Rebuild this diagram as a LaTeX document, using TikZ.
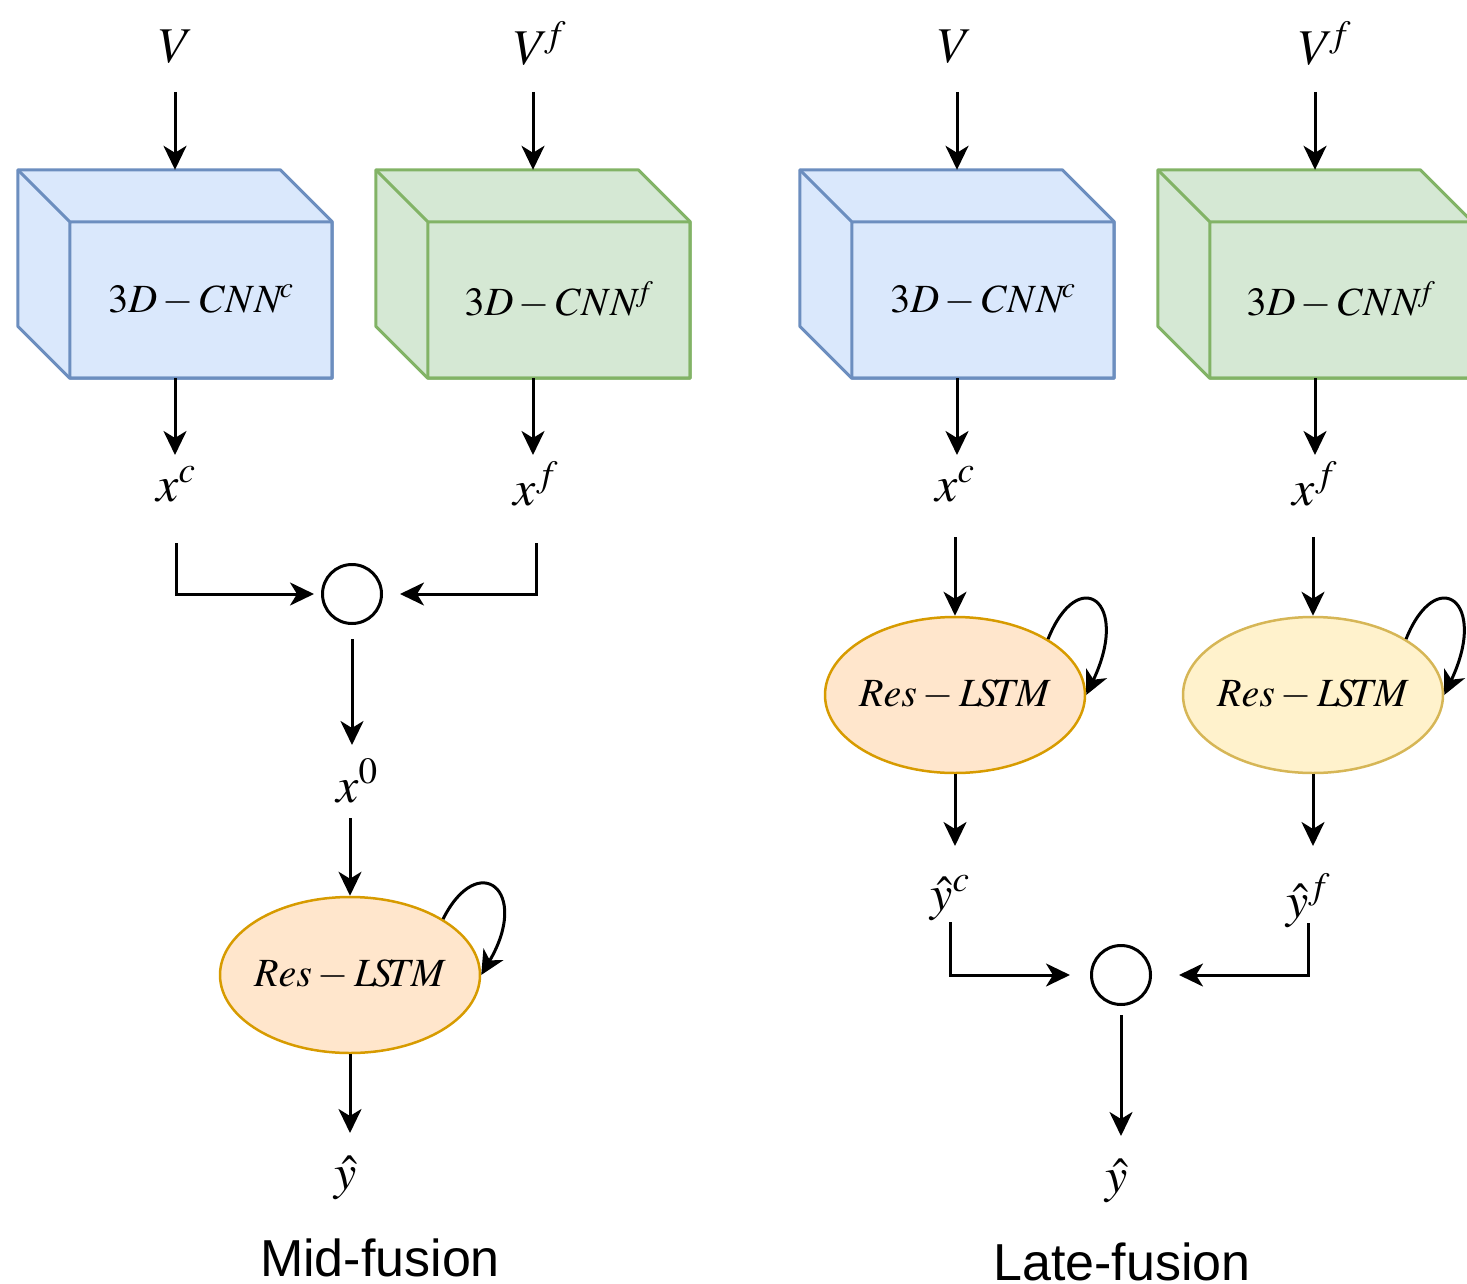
\documentclass[tikz,border=0pt]{standalone}
\usepackage{mathptmx}
\usepackage{fontspec}
\setmainfont{Liberation Serif}
\newfontfamily\titlefont{Liberation Sans}
\usetikzlibrary{arrows.meta,shapes.geometric}

\definecolor{cnnblue}{HTML}{DAE8FC}
\definecolor{cnnblueline}{HTML}{6C8EBF}
\definecolor{cnngreen}{HTML}{D5E8D4}
\definecolor{cnngreenline}{HTML}{82B366}
\definecolor{lstmorange}{HTML}{FFE6CC}
\definecolor{lstmorangeline}{HTML}{D79B00}
\definecolor{lstmyellow}{HTML}{FFF2CC}
\definecolor{lstmyellowline}{HTML}{D6B656}

\begin{document}
\begin{tikzpicture}[x=1pt,y=-1pt,
  arr/.style={-{Stealth[length=24pt,width=23pt,inset=7pt]},line width=3pt},
  lbl/.style={inner sep=0pt,anchor=base,font=\fontsize{50}{60}\selectfont},
  cubebox/.style={minimum width=314pt,minimum height=208pt,inner sep=0pt},
  lstm/.style={ellipse,draw,minimum width=260pt,minimum height=156pt,inner sep=0pt,line width=2.5pt,
    label={[font=\fontsize{40}{48}\selectfont]center:$Res - L\!S\!T\!M$}},
  merge/.style={circle,draw,line width=3pt,minimum size=59pt,inner sep=0pt},
  title/.style={anchor=base,inner sep=0pt,font=\titlefont\fontsize{52}{60}\selectfont}]
  \useasboundingbox (0,0) rectangle (1467,1284);

  % 3D-CNN blocks
  \foreach \n/\cx/\fl/\ln/\s in {cnnL/175/cnnblue/cnnblueline/c, cnnfL/533/cnngreen/cnngreenline/f,
      cnnR/957/cnnblue/cnnblueline/c, cnnfR/1315/cnngreen/cnngreenline/f}{
    \node[cubebox] (\n) at (\cx,274) {};
    \draw[fill=\fl,draw=\ln,line width=3pt,line join=round]
      (\n.north west) -- ([xshift=-52pt]\n.north east) -- ([yshift=-52pt]\n.north east)
      -- (\n.south east) -- ([xshift=52pt]\n.south west) -- ([yshift=52pt]\n.south west) -- cycle;
    \draw[draw=\ln,line width=3pt,line join=round]
      ([shift={(52pt,-52pt)}]\n.north west) rectangle (\n.south east)
      (\n.north west) -- ([shift={(52pt,-52pt)}]\n.north west);
    \node[font=\fontsize{40}{48}\selectfont] at ([shift={(26pt,-26pt)}]\n.center) {$3D - CNN^{\!\s}$};
  }

  % mid-fusion
  \node[lbl] (vL) at (176,63) {$V$};
  \node[lbl] (vfL) at (540,65) {$V^{\!f}$};
  \node[lbl] (xcL) at (176,501) {$x^c$};
  \node[lbl] (xfL) at (536,505) {$x^f$};
  \node[merge] (mergeL) at (352,594) {};
  \node[lbl] (x0) at (357,802) {$x^0$};
  \node[lstm,fill=lstmorange,draw=lstmorangeline] (lstmL) at (350,975) {};
  \node[lbl] (yL) at (346,1189) {$\hat{y}$};
  \node[title] (midT) at (380,1276) {Mid-fusion};

  \draw[arr,shorten <=29pt] (vL.base -| cnnL.north) -- (cnnL.north);
  \draw[arr,shorten <=27pt] (vfL.base -| cnnfL.north) -- (cnnfL.north);
  \draw[arr,shorten >=46pt] (cnnL.south) -- (cnnL.south |- xcL.base);
  \draw[arr,shorten >=50pt] (cnnfL.south) -- (cnnfL.south |- xfL.base);
  \draw[arr,shorten <=42pt,shorten >=7pt] (xcL.base) |- (mergeL.west);
  \draw[arr,shorten <=38pt,shorten >=17pt] (xfL.base) |- (mergeL.east);
  \draw[arr,shorten <=14pt,shorten >=57pt] (mergeL.south) -- (mergeL.south |- x0.base);
  \draw[arr,shorten <=16pt] (x0.base -| lstmL.north) -- (lstmL.north);
  \draw[arr] (lstmL.31) .. controls +(35,-70) and +(50,-85) .. (lstmL.east);
  \draw[arr,shorten >=56pt] (lstmL.south) -- (lstmL.south |- yL.base);

  % late-fusion
  \node[lbl] (vR) at (955,63) {$V$};
  \node[lbl] (vfR) at (1325,65) {$V^{\!f}$};
  \node[lbl] (xcR) at (955,501) {$x^c$};
  \node[lbl] (xfR) at (1315,505) {$x^f$};
  \node[lstm,fill=lstmorange,draw=lstmorangeline] (lstmR) at (955,695) {};
  \node[lstm,fill=lstmyellow,draw=lstmyellowline] (lstmfR) at (1313,695) {};
  \node[lbl] (ycR) at (950,910) {$\hat{y}^c$};
  \node[lbl] (yfR) at (1308,917) {$\hat{y}^f$};
  \node[merge] (mergeR) at (1121,975) {};
  \node[lbl] (yR) at (1117,1192) {$\hat{y}$};
  \node[title] (lateT) at (1122,1280) {Late-fusion};

  \draw[arr,shorten <=29pt] (vR.base -| cnnR.north) -- (cnnR.north);
  \draw[arr,shorten <=27pt] (vfR.base -| cnnfR.north) -- (cnnfR.north);
  \draw[arr,shorten >=46pt] (cnnR.south) -- (cnnR.south |- xcR.base);
  \draw[arr,shorten >=50pt] (cnnfR.south) -- (cnnfR.south |- xfR.base);
  \draw[arr,shorten <=36pt] (xcR.base -| lstmR.north) -- (lstmR.north);
  \draw[arr,shorten <=32pt] (xfR.base -| lstmfR.north) -- (lstmfR.north);
  \draw[arr] (lstmR.31) .. controls +(30,-75) and +(45,-95) .. (lstmR.east);
  \draw[arr] (lstmfR.31) .. controls +(30,-75) and +(45,-95) .. (lstmfR.east);
  \draw[arr,shorten >=64pt] (lstmR.south) -- (lstmR.south |- ycR.base);
  \draw[arr,shorten >=71pt] (lstmfR.south) -- (lstmfR.south |- yfR.base);
  \draw[arr,shorten <=12pt,shorten >=20pt] (ycR.base) |- (mergeR.west);
  \draw[arr,shorten <=6pt,shorten >=27pt] (yfR.base) |- (mergeR.east);
  \draw[arr,shorten <=9pt,shorten >=56pt] (mergeR.south) -- (mergeR.south |- yR.base);
\end{tikzpicture}
\end{document}
